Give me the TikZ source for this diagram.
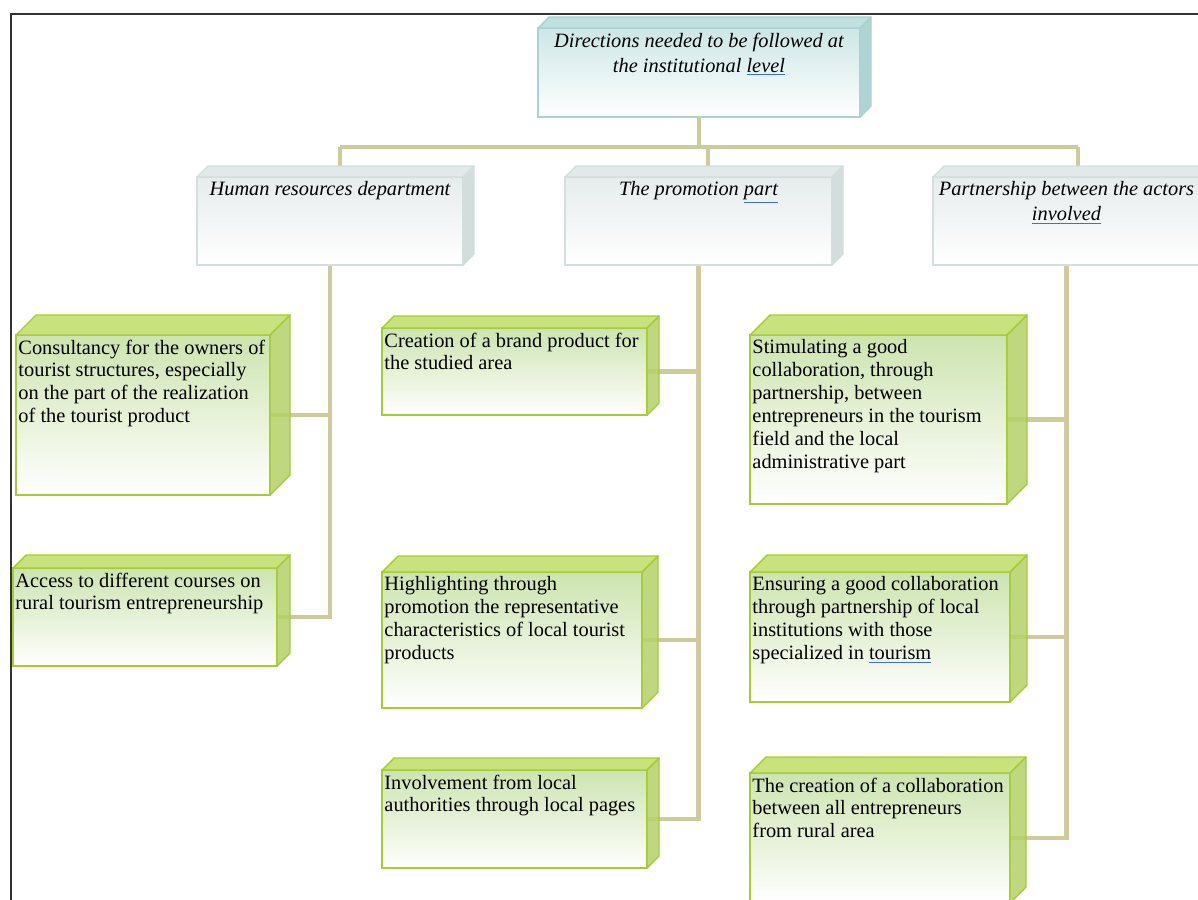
\documentclass[tikz,border=0pt]{standalone}
\usepackage{fontspec}
\setmainfont{Liberation Serif}
\usetikzlibrary{calc}
\pgfdeclarelayer{bg}
\pgfsetlayers{bg,main}
\definecolor{connc}{RGB}{205,203,155}
\definecolor{gborder}{RGB}{165,205,50}
\definecolor{gfronttop}{RGB}{205,228,175}
\definecolor{gtopface}{RGB}{200,226,125}
\definecolor{gsideface}{RGB}{180,210,105}
\definecolor{hborder}{RGB}{212,222,222}
\definecolor{hfronttop}{RGB}{230,236,236}
\definecolor{htopface}{RGB}{226,233,233}
\definecolor{hsideface}{RGB}{212,220,220}
\definecolor{tborder}{RGB}{170,210,210}
\definecolor{tfronttop}{RGB}{205,230,230}
\definecolor{ttopface}{RGB}{192,224,224}
\definecolor{tsideface}{RGB}{176,212,212}
\definecolor{ulblue}{RGB}{60,110,220}
\newcommand\ulb[1]{\textcolor{ulblue}{\underline{\textcolor{black}{#1}}}}
\tikzset{
  conn/.style={line width=2.8pt, draw=connc},
  gfront/.style={draw=gborder, line width=0.8pt, top color=gfronttop, bottom color=white, inner sep=0pt, outer sep=0pt},
  gtopf/.style={fill=gtopface, draw=gborder, line width=0.8pt, line join=round},
  gside/.style={fill=gsideface, fill opacity=0.85, draw=gborder, line width=0.8pt, line join=round},
  hfront/.style={draw=hborder, line width=0.8pt, top color=hfronttop, bottom color=white, inner sep=0pt, outer sep=0pt},
  htopf/.style={fill=htopface, draw=hborder, line width=0.8pt, line join=round},
  hside/.style={fill=hsideface, draw=hborder, line width=0.8pt, line join=round},
  tfront/.style={draw=tborder, line width=0.8pt, top color=tfronttop, bottom color=white, inner sep=0pt, outer sep=0pt},
  ttopf/.style={fill=ttopface, draw=tborder, line width=0.8pt, line join=round},
  tside/.style={fill=tsideface, draw=tborder, line width=0.8pt, line join=round},
  gtext/.style={anchor=north west, align=left, inner xsep=1.2pt, inner ysep=2.5pt, font=\fontsize{11.6pt}{13pt}\selectfont},
  htext/.style={anchor=north, align=center, inner sep=2.5pt, font=\fontsize{11.6pt}{14.2pt}\selectfont\itshape},
}
% #1 name, #2 x1, #3 y1, #4 x2, #5 y2, #6 depth, #7 style prefix
\newcommand\cubebox[7]{%
  \node[#7front, anchor=north west, minimum width={(#4-#2)*0.02cm}, minimum height={(#5-#3)*0.02cm}] (#1) at (#2,#3) {};
  \filldraw[#7topf] (#1.north west) -- ++(#6,-#6) -- ++({#4-#2},0) -- (#1.north east) -- cycle;
  \filldraw[#7side] (#1.north east) -- ++(#6,-#6) -- ++(0,{#5-#3}) -- (#1.south east) -- cycle;
}
\begin{document}
\begin{tikzpicture}[x=0.02cm,y=-0.02cm]
\clip (0,0) rectangle (1198,900);
\begin{pgfonlayer}{bg}
\fill[white] (0,0) rectangle (1198,900);
\end{pgfonlayer}
\draw[line width=1.2pt, black!80] (11,1000) -- (11,14) -- (1300,14);

% header boxes
\cubebox{top}{538}{28}{860}{117}{11}{t}
\node[htext] (top-t) at (top.north) {Directions needed to be followed at\\the institutional \ulb{level}};
\cubebox{hr}{197}{177}{463}{265}{11}{h}
\node[htext] (hr-t) at (hr.north) {Human resources department};
\cubebox{pr}{565}{177}{832}{265}{11}{h}
\node[htext] (pr-t) at (pr.north) {The promotion \ulb{part}};
\cubebox{pa}{933}{177}{1200}{265}{11}{h}
\node[htext] (pa-t) at (pa.north) {Partnership between the actors\\\ulb{involved}};

% green boxes
\cubebox{h1}{16}{335}{270}{495}{20}{g}
\node[gtext] (h1-t) at (h1.north west) {Consultancy for the owners of\\tourist structures, especially\\on the part of the realization\\of the tourist product};
\cubebox{h2}{13}{568}{277}{666}{13}{g}
\node[gtext] (h2-t) at (h2.north west) {Access to different courses on\\rural tourism entrepreneurship};
\cubebox{p1}{382}{328}{647}{415}{12}{g}
\node[gtext] (p1-t) at (p1.north west) {Creation of a brand product for\\the studied area};
\cubebox{p2}{382}{572}{642}{708}{16}{g}
\node[gtext] (p2-t) at (p2.north west) {Highlighting through\\promotion the representative\\characteristics of local tourist\\products};
\cubebox{p3}{382}{770}{647}{868}{12}{g}
\node[gtext] (p3-t) at (p3.north west) {Involvement from local\\authorities through local pages};
\cubebox{r1}{750}{335}{1007}{504}{20}{g}
\node[gtext] (r1-t) at (r1.north west) {Stimulating a good\\collaboration, through\\partnership, between\\entrepreneurs in the tourism\\field and the local\\administrative part};
\cubebox{r2}{750}{572}{1010}{702}{17}{g}
\node[gtext] (r2-t) at (r2.north west) {Ensuring a good collaboration\\through partnership of local\\institutions with those\\specialized in \ulb{tourism}};
\cubebox{r3}{750}{773}{1010}{903}{16}{g}
\node[gtext] (r3-t) at (r3.north west) {The creation of a collaboration\\between all entrepreneurs\\from rural area};

% connectors
\coordinate (barL) at (340,147);
\coordinate (barM) at (708,147);
\coordinate (barR) at (1078,147);
\begin{pgfonlayer}{bg}
\draw[conn] (top.south) -- (top.south |- barL);
\draw[conn] (barL) -- (barR);
\draw[conn] (barL) -- (barL |- hr.north);
\draw[conn] (barM) -- (barM |- pr.north);
\draw[conn] (barR) -- (barR |- pa.north);
\draw[conn] (hr.south) |- (h2.east);
\draw[conn] (h1.east) -- (h1.east -| hr.south);
\draw[conn] (pr.south) |- (p3.east);
\draw[conn] (p1.east) -- (p1.east -| pr.south);
\draw[conn] (p2.east) -- (p2.east -| pr.south);
\draw[conn] (pa.south) |- (r3.east);
\draw[conn] (r1.east) -- (r1.east -| pa.south);
\draw[conn] (r2.east) -- (r2.east -| pa.south);
\end{pgfonlayer}
\end{tikzpicture}
\end{document}
